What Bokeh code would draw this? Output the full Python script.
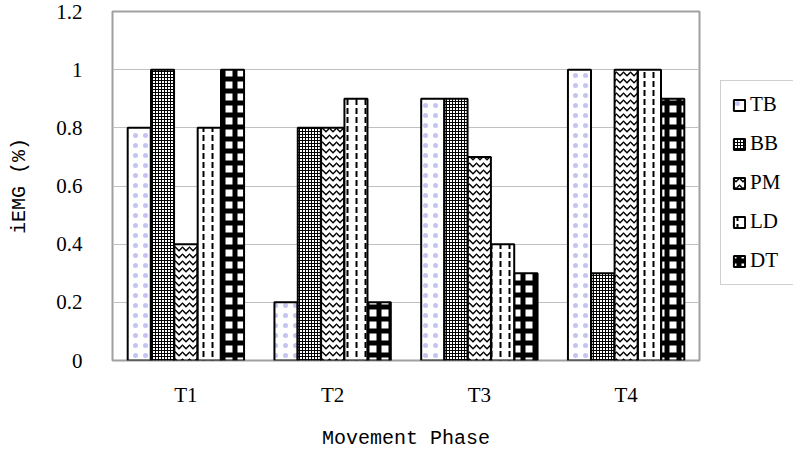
from bokeh.plotting import figure
from bokeh.layouts import row
from bokeh.models import Range1d, FixedTicker, Legend, LegendItem, ColumnDataSource
from bokeh.transform import dodge
from bokeh.embed import file_html
from bokeh.resources import INLINE

# ---- data ----
phases = ["T1", "T2", "T3", "T4"]
muscles = ["TB", "BB", "PM", "LD", "DT"]
TB = [0.8, 0.2, 0.9, 1.0]
BB = [1.0, 0.8, 0.9, 0.3]
PM = [0.4, 0.8, 0.7, 1.0]
LD = [0.8, 0.9, 0.4, 1.0]
DT = [1.0, 0.2, 0.3, 0.9]
y_ticks = [0, 0.2, 0.4, 0.6, 0.8, 1.0, 1.2]
y_tick_labels = ["0", "0.2", "0.4", "0.6", "0.8", "1", "1.2"]

# ---- fill styles (built-in hatches) ----
styles = {
    "TB": dict(hatch_pattern="dot", hatch_color="#c4c4f2", hatch_scale=10),
    "BB": dict(hatch_pattern="cross", hatch_color="black", hatch_scale=3, hatch_weight=1),
    "PM": dict(hatch_pattern="horizontal_wave", hatch_color="black", hatch_scale=7, hatch_weight=1.5),
    "LD": dict(hatch_pattern="vertical_dash", hatch_color="black", hatch_scale=9, hatch_weight=2),
    "DT": dict(hatch_pattern="cross", hatch_color="black", hatch_scale=12, hatch_weight=5),
}

source = ColumnDataSource(dict(phase=phases, TB=TB, BB=BB, PM=PM, LD=LD, DT=DT))

H = 452
p = figure(x_range=phases, y_range=Range1d(0, 1.2), width=703, height=H,
           output_backend="svg", toolbar_location=None,
           min_border_left=112, min_border_right=4, min_border_top=11,
           min_border_bottom=88,
           background_fill_color="white", border_fill_color="white")

offsets = [-0.318, -0.159, 0.0, 0.159, 0.318]
bar_w = 0.157
for m, off in zip(muscles, offsets):
    p.vbar(x=dodge("phase", off, range=p.x_range), top=m, width=bar_w,
           source=source, fill_color="white", line_color="black",
           line_width=2, **styles[m])

# axes
p.yaxis.ticker = FixedTicker(ticks=y_ticks)
p.yaxis.major_label_overrides = {t: l for t, l in zip(y_ticks, y_tick_labels)}
for ax in (p.xaxis[0], p.yaxis[0]):
    ax.axis_line_color = None
    ax.major_tick_line_color = None
    ax.minor_tick_line_color = None
    ax.major_label_text_font = "Liberation Serif"
    ax.major_label_text_font_size = "21px"
    ax.major_label_text_color = "black"
    ax.axis_label_text_font = "Liberation Mono"
    ax.axis_label_text_font_size = "20px"
    ax.axis_label_text_font_style = "normal"
    ax.axis_label_text_color = "black"
p.yaxis.major_label_standoff = 24
p.yaxis.axis_label = "iEMG (%)"
p.yaxis.axis_label_standoff = 22
p.xaxis.major_label_standoff = 16
p.xaxis.axis_label = "Movement Phase"
p.xaxis.axis_label_standoff = 17

p.xgrid.grid_line_color = None
p.ygrid.grid_line_color = "#c0c0c0"
p.ygrid.grid_line_width = 1
p.outline_line_color = "#a0a0a0"
p.outline_line_width = 2
p.x_range.range_padding = 0

# ---- legend panel: a second figure to the right (its renderers are hidden) ----
lg = figure(width=90, height=H, x_range=phases, y_range=Range1d(0, 1.2),
            x_axis_type=None, y_axis_type=None, output_backend="svg",
            toolbar_location=None, min_border_left=17, min_border_right=0,
            min_border_top=0, min_border_bottom=0, outline_line_color=None,
            background_fill_color="white", border_fill_color="white")
lg.xgrid.visible = False
lg.ygrid.visible = False
items = []
for m in muscles:
    r = lg.vbar(x="phase", top=m, width=0.5, source=source, fill_color="white",
                line_color="black", line_width=2, visible=False, **styles[m])
    items.append(LegendItem(label=m, renderers=[r]))
legend = Legend(items=items, location=(0, 75), margin=0, padding=11,
                glyph_width=14, glyph_height=14, label_height=20, spacing=14,
                label_width=33, label_standoff=4, click_policy="none",
                inactive_fill_alpha=0,
                label_text_font="Liberation Serif", label_text_font_size="21px",
                label_text_color="black", border_line_color="#a0a0a0",
                border_line_width=1, background_fill_color="white")
lg.add_layout(legend, "center")

open("out.html", "w").write(file_html(row(p, lg), INLINE))
